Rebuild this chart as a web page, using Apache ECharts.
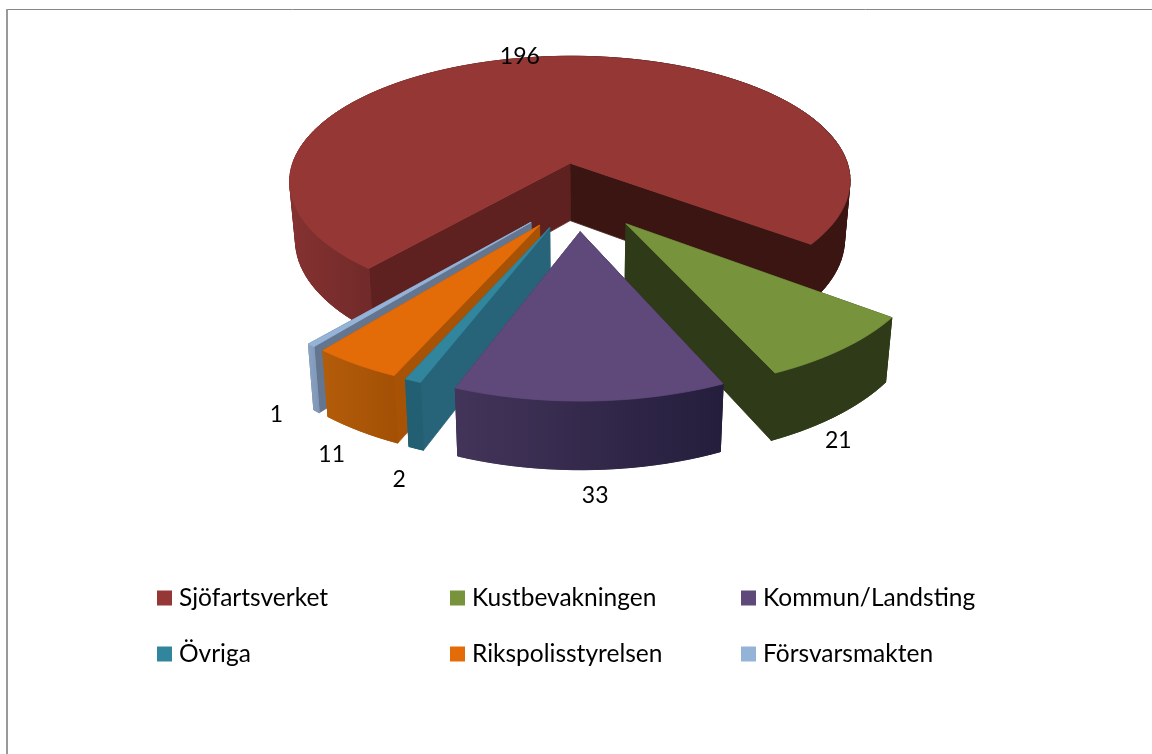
<!DOCTYPE html>
<html>
<head>
<meta charset="utf-8">
<style>
  html, body { margin: 0; padding: 0; background: #fff; }
  #chart { width: 1152px; height: 754px; }
</style>
<script src="https://cdn.jsdelivr.net/npm/echarts@6/dist/echarts.min.js"></script>
</head>
<body>
<div id="chart"></div>
<script>
var names = ['Sjöfartsverket', 'Kustbevakningen', 'Kommun/Landsting', 'Övriga', 'Rikspolisstyrelsen', 'Försvarsmakten'];
var values = [196, 21, 33, 2, 11, 1];

// legend columns, same reading order as the picture
var legendCols = [
  ['Sjöfartsverket', 'Övriga'],
  ['Kustbevakningen', 'Rikspolisstyrelsen'],
  ['Kommun/Landsting', 'Försvarsmakten']
];
var legendLeft = [157, 450, 741];

var topColors = ['#953735', '#77933c', '#5f497a', '#31859c', '#e36c09', '#95b3d7'];
var startFace = ['#5e2120', '#2f3a18', '#241e3c', '#27647a', '#a85205', '#63758f'];
var endFace = ['#3a1512', '#2f3a18', '#43345a', '#27647a', '#a85205', '#63758f'];
var wallStops = [
  [[0, '#853231'], [0.15, '#702a29'], [0.3, '#5e2120'], [0.6, '#3a1512'], [1, '#3a1512']],
  [[0, '#2f3a18'], [1, '#2f3a18']],
  [[0, '#43345a'], [1, '#241e3c']],
  [[0, '#235f72'], [1, '#235f72']],
  [[0, '#b35c0a'], [1, '#a35005']],
  [[0, '#8aa3c4'], [1, '#7f95b5']]
];
var drawZ = [1, 5, 6, 4, 3, 2];
var labelNudge = [[-25, -53], [1, 25], [5, 26], [-17, 31], [-29, 23], [-40, 3]];

// projection of the tilted pie
var startAngle = 220;
var explode = [0.26, 0.26, 0.26, 0.25, 0.25, 0.25];
var Ox = 578, Oy = 196, Rx = 288, Ry = 132, depth = 59, persp = 0.15, zShrink = 0.02;

var total = values.reduce(function (a, b) { return a + b; }, 0);

function sliceRange(i) {
  var a = startAngle;
  for (var k = 0; k < i; k++) a += values[k] / total * 360;
  return [a, a + values[i] / total * 360];
}

function project(i, angle, r, z) {
  var rg = sliceRange(i);
  var mid = (rg[0] + rg[1]) / 2 * Math.PI / 180;
  var t = angle * Math.PI / 180;
  var x = explode[i] * Math.sin(mid) + r * Math.sin(t);
  var y = -explode[i] * Math.cos(mid) - r * Math.cos(t);
  var w = 1 / (1 - persp * y);
  var wz = 1 - zShrink * z;
  return [Ox + Rx * x * w * wz, Oy + Ry * y * w * wz + depth * z * w];
}

function arcPoints(i, a0, a1, z) {
  var pts = [];
  var n = Math.max(2, Math.ceil((a1 - a0) / 2));
  for (var k = 0; k <= n; k++) pts.push(project(i, a0 + (a1 - a0) * k / n, 1, z));
  return pts;
}

// same colour stroke closes the hairline seams between faces
function poly(points, fill) {
  return { type: 'polygon', shape: { points: points }, style: { fill: fill, stroke: fill, lineWidth: 0.8 }, silent: true };
}

// quads fill the silhouette where the wall turns away, the strip on top keeps it smooth
function wallParts(arcT, arcB, stops) {
  var xs = arcT.concat(arcB).map(function (p) { return p[0]; });
  var grad = new echarts.graphic.LinearGradient(Math.min.apply(null, xs), 0, Math.max.apply(null, xs), 0, stops.map(function (s) {
    return { offset: s[0], color: s[1] };
  }), true);
  var parts = [];
  for (var k = 0; k < arcT.length - 1; k++) {
    parts.push(poly([arcT[k], arcT[k + 1], arcB[k + 1], arcB[k]], grad));
  }
  parts.push(poly(arcT.concat(arcB.slice().reverse()), grad));
  return parts;
}

function renderSlice(i) {
  return function () {
    var rg = sliceRange(i);
    var apexT = project(i, rg[0], 0, 0), apexB = project(i, rg[0], 0, 1);
    var sT = project(i, rg[0], 1, 0), sB = project(i, rg[0], 1, 1);
    var eT = project(i, rg[1], 1, 0), eB = project(i, rg[1], 1, 1);
    var arcT = arcPoints(i, rg[0], rg[1], 0);
    var arcB = arcPoints(i, rg[0], rg[1], 1);
    var mid = (rg[0] + rg[1]) / 2;
    var lp = project(i, mid, 1, 1);
    var children = [
      poly([apexT, eT, eB, apexB], endFace[i]),
      poly([apexT, sT, sB, apexB], startFace[i])
    ].concat(wallParts(arcT, arcB, wallStops[i]));
    children.push(poly([apexT].concat(arcT), topColors[i]));
    children.push({
      type: 'text', silent: true,
      style: {
        x: lp[0] + labelNudge[i][0], y: lp[1] + labelNudge[i][1],
        text: String(values[i]), fill: '#000',
        font: '23px Lato', align: 'center', verticalAlign: 'middle'
      }
    });
    return { type: 'group', children: children };
  };
}

var chart = echarts.init(document.getElementById('chart'));
var option = {
  animation: false,
  backgroundColor: '#fff',
  graphic: [
    { type: 'line', silent: true, shape: { x1: 6, y1: 9.5, x2: 1152, y2: 9.5 }, style: { stroke: '#888', lineWidth: 1 } },
    { type: 'line', silent: true, shape: { x1: 7, y1: 9, x2: 7, y2: 754 }, style: { stroke: '#999', lineWidth: 2 } }
  ],
  legend: legendCols.map(function (col, c) {
    return {
      orient: 'vertical', left: legendLeft[c], top: 585, data: col, padding: 0,
      icon: 'rect', itemWidth: 15, itemHeight: 15, itemGap: 30, selectedMode: false,
      textStyle: { fontFamily: 'Lato', fontSize: 24.5, color: '#000', lineHeight: 26, padding: [0, 0, 0, 2] }
    };
  }),
  series: names.map(function (name, i) {
    return {
      type: 'custom', name: name, coordinateSystem: 'none', z: drawZ[i],
      itemStyle: { color: topColors[i] },
      data: [[values[i]]],
      renderItem: renderSlice(i)
    };
  })
};
chart.setOption(option);
</script>
</body>
</html>
